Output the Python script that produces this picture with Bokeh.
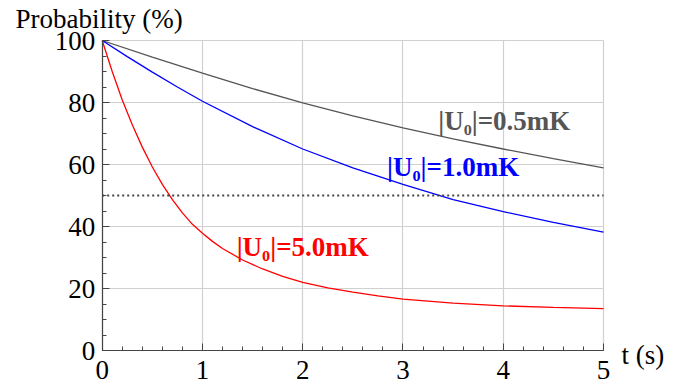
from bokeh.plotting import figure
from bokeh.models import Label, SingleIntervalTicker, Range1d, LinearAxis, Grid
from bokeh.embed import file_html
from bokeh.resources import INLINE

# Data
t_gray = [0, 0.5, 1.0, 1.5, 2.0, 2.5, 3.0, 3.5, 4.0, 4.5, 5.0]
p_gray = [100, 94.6, 89.5, 84.5, 79.9, 75.7, 71.8, 68.3, 65.0, 61.9, 58.9]

t_blue = [0, 0.25, 0.5, 0.75, 1.0, 1.5, 2.0, 2.5, 3.0, 3.5, 4.0, 4.5, 5.0]
p_blue = [100, 94.8, 89.8, 85.0, 80.4, 72.2, 65.0, 58.9, 53.6, 48.7, 44.8, 41.3, 38.2]

t_red = [0, 0.1, 0.2, 0.3, 0.4, 0.5, 0.6, 0.7, 0.8, 0.9, 1.0, 1.1, 1.2, 1.4, 1.6, 1.8,
         2.0, 2.25, 2.5, 2.75, 3.0, 3.5, 4.0, 4.5, 5.0]
p_red = [100, 90.0, 80.8, 72.8, 65.6, 59.2, 53.6, 48.7, 44.4, 40.7, 37.8, 35.2, 32.9, 29.2,
         26.3, 23.9, 22.0, 20.2, 18.8, 17.6, 16.6, 15.3, 14.4, 13.9, 13.5]

half_level = 50

labels = ["|U\u2080|=0.5mK", "|U\u2080|=1.0mK", "|U\u2080|=5.0mK"]
label_x = [4.01, 3.50, 2.0]
label_y = [74.0, 59.2, 33.4]
colors = ["#555555", "#0000ff", "#ff0000"]

y_title = "Probability (%)"
x_title = "t (s)"

x_min, x_max = 0, 5
y_min, y_max = 0, 100

FONT = "Liberation Serif"

# frame covers the whole canvas; axes are pinned at t=0 / P=0 so outer texts are not clipped
W, H = 688, 388
left_px, right_px, top_px, bottom_px = 101.7, 603.0, 40.0, 350.0
sx = (right_px - left_px) / (x_max - x_min)
sy = (bottom_px - top_px) / (y_max - y_min)
xr = Range1d(x_min - left_px / sx, x_max + (W - right_px) / sx)
yr = Range1d(y_min - (H - bottom_px) / sy, y_max + top_px / sy)

p = figure(width=W, height=H, output_backend="svg", toolbar_location=None,
           x_range=xr, y_range=yr, x_axis_location=None, y_axis_location=None,
           min_border=0, min_border_left=0, min_border_right=0,
           min_border_top=0, min_border_bottom=0)
p.outline_line_color = None
p.background_fill_color = "white"
p.border_fill_color = "white"
p.xgrid.visible = False
p.ygrid.visible = False

xt = SingleIntervalTicker(interval=1, num_minor_ticks=5)
yt = SingleIntervalTicker(interval=20, num_minor_ticks=4)

p.add_layout(Grid(dimension=0, ticker=SingleIntervalTicker(interval=1), bounds=(x_min, x_max),
                  cross_bounds=(y_min, y_max), grid_line_color="#d0d0d0", grid_line_width=1.2))
p.add_layout(Grid(dimension=1, ticker=SingleIntervalTicker(interval=20), bounds=(y_min, y_max),
                  cross_bounds=(x_min, x_max), grid_line_color="#d0d0d0", grid_line_width=1.2))

xaxis = LinearAxis(ticker=xt, fixed_location=y_min, bounds=(x_min, x_max))
yaxis = LinearAxis(ticker=yt, fixed_location=x_min, bounds=(y_min, y_max))
for ax in (xaxis, yaxis):
    ax.axis_line_color = "#444444"
    ax.axis_line_width = 1.2
    ax.major_tick_line_color = "#444444"
    ax.minor_tick_line_color = "#444444"
    ax.major_tick_in = 7
    ax.major_tick_out = 0
    ax.minor_tick_in = 4
    ax.minor_tick_out = 0
    ax.major_label_text_font = FONT
    ax.major_label_text_font_size = "27px"
    ax.major_label_text_color = "black"
xaxis.major_label_standoff = 10
yaxis.major_label_standoff = 7
p.add_layout(xaxis, "below")
p.add_layout(yaxis, "left")

p.line(t_gray, p_gray, line_color=colors[0], line_width=1.3)
p.line(t_blue, p_blue, line_color=colors[1], line_width=1.3)
p.line(t_red, p_red, line_color=colors[2], line_width=1.3)

p.line([x_min, x_max], [half_level, half_level], line_color="#444444",
       line_width=1.8, line_dash="2 3")

for txt, lx, ly, c in zip(labels, label_x, label_y, colors):
    p.add_layout(Label(x=lx, y=ly, text=txt, text_color=c, text_font=FONT,
                       text_font_size="27px", text_font_style="bold",
                       text_align="center", text_baseline="alphabetic"))

p.add_layout(Label(x=-0.864, y=107.0, text=y_title, text_font=FONT, text_font_size="27px",
                   text_align="left", text_baseline="alphabetic", text_color="black"))
p.add_layout(Label(x=5.18, y=-1.6, text=x_title, text_font=FONT, text_font_size="27px",
                   text_align="left", text_baseline="alphabetic", text_color="black"))

open("out.html", "w").write(file_html(p, INLINE))
